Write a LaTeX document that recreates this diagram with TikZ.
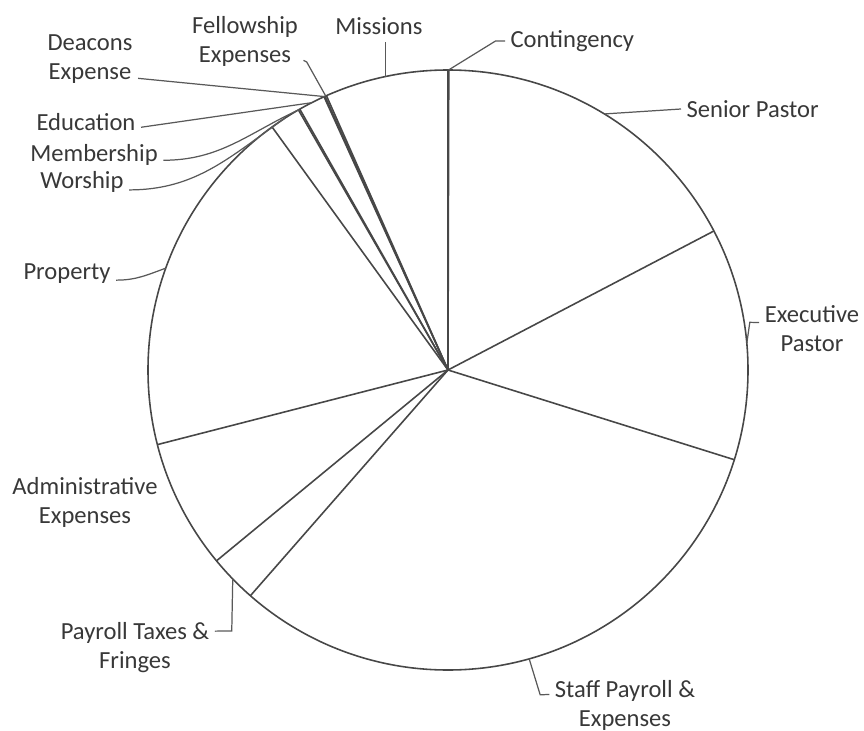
\documentclass[tikz,border=0pt]{standalone}
\usepackage{fontspec}
\setmainfont{Carlito}
\usetikzlibrary{calc, positioning}
\tikzset{BudgetPie/.style={
    x = 0.02cm, y = 0.02cm,
    font = \fontsize{14}{16.5}\selectfont,
    lbl/.style = {align=center, inner xsep=3pt, inner ysep=0pt, text=black!78},
    leader/.style = {draw=black!65, line width=0.7pt},
    wedge/.style = {draw=black!72, line width=0.9pt}
}}

\begin{document}
\begin{tikzpicture}[BudgetPie]
    \useasboundingbox (-448,-360) rectangle (416,370);
    \coordinate (O) at (0,0);

    \draw [wedge] (O) circle (300);
    \foreach \a in {90, 89.85, 27.6, -17.4, -131.2, -140.5, -165.6,
                    125.9, 119.9, 119.6, 114.4, 114.2, 113.9}
        \draw [wedge] (O) -- (\a:300);

    % points on the rim where the leaders start
    \coordinate (a-con) at (89.9:300);
    \coordinate (a-sp)  at (58.6:300);
    \coordinate (a-ep)  at (5.1:300);
    \coordinate (a-spe) at (-74.3:300);
    \coordinate (a-ptf) at (-135.85:300);
    \coordinate (a-pro) at (160.15:300);
    \coordinate (a-wor) at (122.9:300);
    \coordinate (a-mem) at (119.75:300);
    \coordinate (a-edu) at (117:300);
    \coordinate (a-dea) at (114.3:300);
    \coordinate (a-fel) at (114.05:300);
    \coordinate (a-mis) at (102.1:300);

    \node [lbl, anchor=west] (con) at (57,329) {Contingency};
    \node [lbl, anchor=west] (sp) at (233,261) {Senior Pastor};
    \node [lbl] (ep) at (364,41) {Executive\\Pastor};
    \node [lbl] (spe) at (177,-335) {Staff Payroll \&\\Expenses};
    \node [lbl] (ptf) at (-313,-278) {Payroll Taxes \&\\Fringes};
    \node [lbl] (adm) at (-363,-132) {Administrative\\Expenses};
    \node [lbl] (pro) at (-381,96) {Property};
    \node [lbl] (wor) at (-366,188) {Worship};
    \node [lbl] (mem) at (-354,215) {Membership};
    \node [lbl] (edu) at (-362,248) {Education};
    \node [lbl] (dea) at (-358,311) {Deacons\\Expense};
    \node [lbl] (fel) at (-203,329) {Fellowship\\Expenses};
    \node [lbl, inner ysep=4pt] (mis) at (-69,344) {Missions};

    \draw [leader] (a-con) -- ++(47,29) -- (con.west);
    \draw [leader] (a-sp) -- (sp.west);
    \draw [leader] (a-ep) -- ++(3,21) -- ([yshift=3.7pt]ep.west);
    \draw [leader] (a-spe) -- ++(11,-36) -- ([yshift=6pt]spe.west);
    \draw [leader] (a-ptf) -- ++(-1,-52) -- ([yshift=9.6pt]ptf.east);
    \draw [leader] ([yshift=-3.5pt]pro.east) to [out=0, in=200] (a-pro);
    \draw [leader] ([yshift=-4.5pt]wor.east) to [out=0, in=215] (a-wor);
    \draw [leader] ([yshift=-3pt]mem.east) to [out=0, in=205] (a-mem);
    \draw [leader] ([yshift=-3pt]edu.east) -- (a-edu);
    \draw [leader] ([yshift=-11pt]dea.east) -- (a-dea);
    \draw [leader] (a-fel) -- ++(-19,34) -- ([yshift=-11pt]fel.east);
    \draw [leader] (a-mis) -- (a-mis |- mis.south);
\end{tikzpicture}
\end{document}
